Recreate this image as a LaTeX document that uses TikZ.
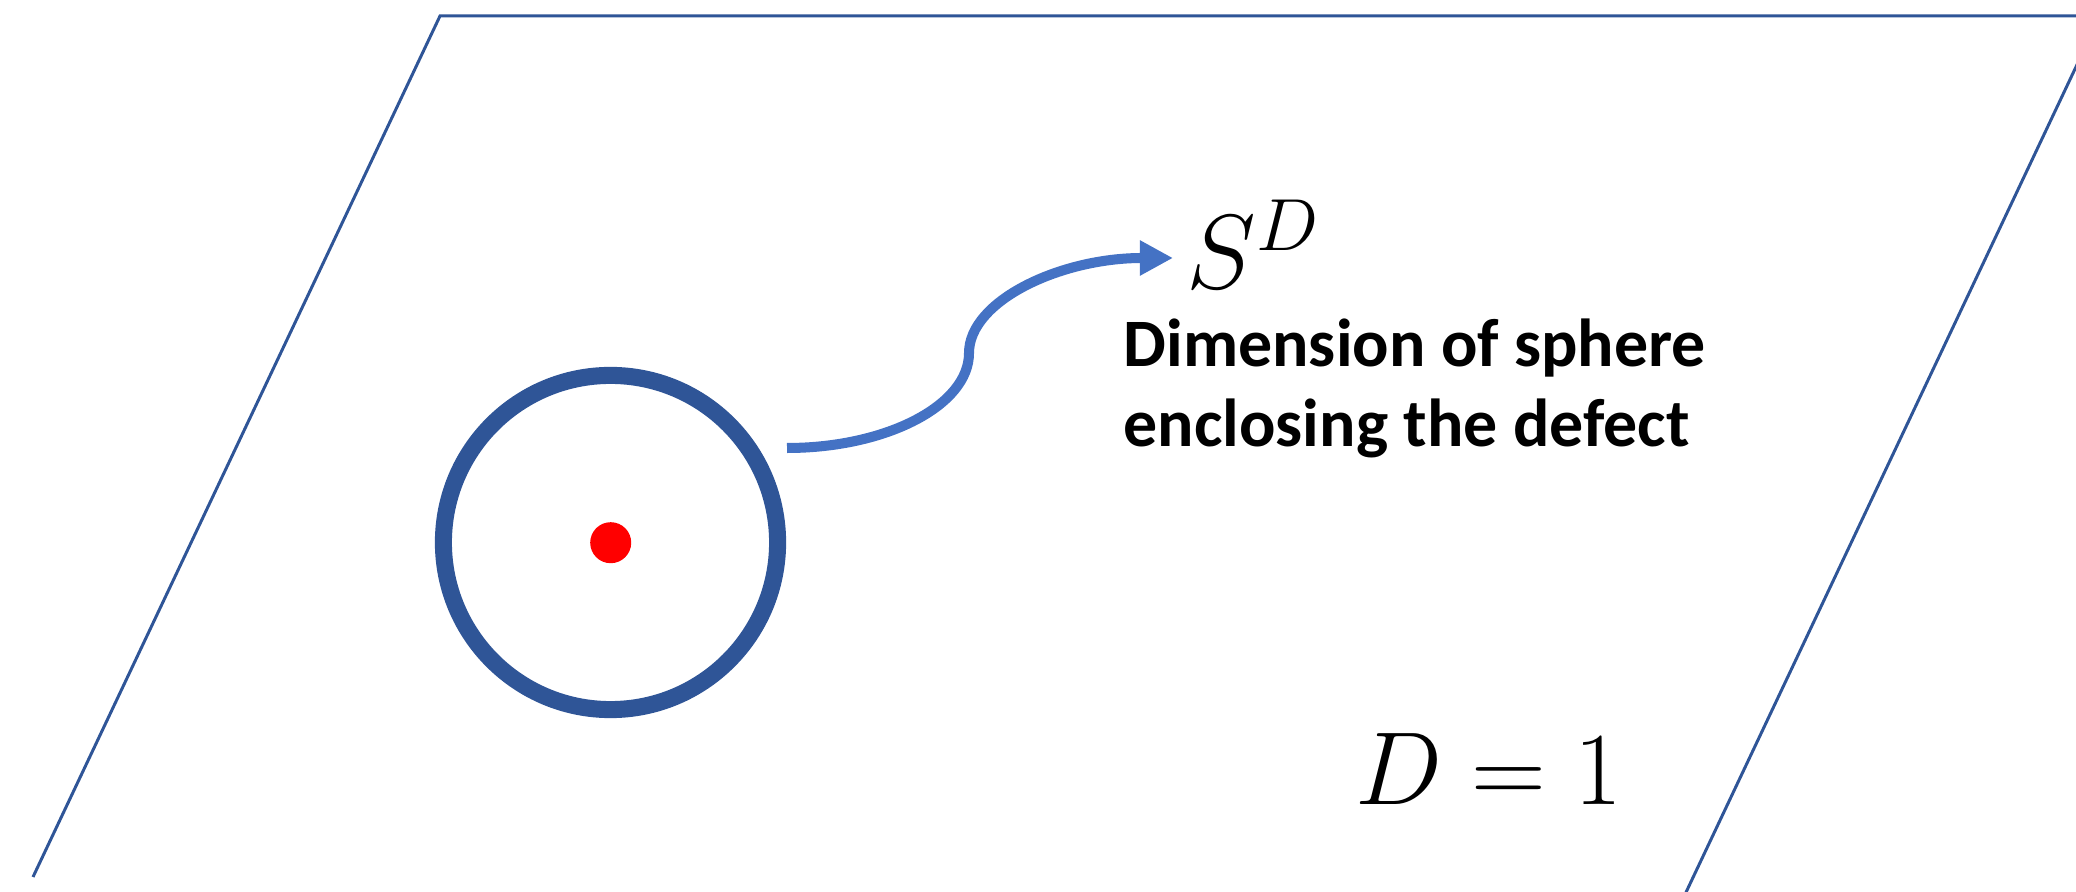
\RequirePackage{fix-cm}
\documentclass[tikz,border=0pt]{standalone}
\usepackage{fontspec}
\newfontfamily\calibri{Carlito}
\usetikzlibrary{arrows.meta}
\definecolor{dkblue}{HTML}{2F5597}
\definecolor{arrblue}{HTML}{4472C4}
\begin{document}
\begin{tikzpicture}[x=0.01cm,y=-0.01cm,
  plane/.style={draw=dkblue,line width=0.85pt,line join=miter},
  ring/.style={circle,draw=dkblue,line width=4.85pt,minimum size=3.34cm,inner sep=0pt},
  dot/.style={circle,fill=red,minimum size=0.41cm,inner sep=0pt},
  curvearrow/.style={draw=arrblue,line width=2.85pt,-{Triangle[length=9.4pt,width=9.4pt]}},
  desc/.style={font=\calibri\bfseries\fontsize{19.3}{22.8}\selectfont,align=left,inner sep=0pt,anchor=base west},
  mathlbl/.style={font=\fontsize{30}{36}\selectfont,inner sep=0pt}]
\useasboundingbox (0,0) rectangle (2076,892);
\begin{scope}
  \clip (0,0) rectangle (2076,892);
  \draw[plane] (33,877) -- (440,16) -- (2100,16) -- (1680,905);
\end{scope}
\node[ring] (sphere) at (610.5,542.5) {};
\node[dot] (defect) at (610.7,542.7) {};
\coordinate (start) at (787,448);
\coordinate (tip) at (1173,258);
\node[mathlbl,anchor=base west] (sd) at (1186,289) {$S^D$};
\node[desc] (txt) at (1123,447) {Dimension of sphere\\enclosing the defect};
\node[font=\fontsize{29.5}{36}\selectfont,inner sep=0pt,anchor=base] (eq) at (1489,805) {$D = 1$};
\draw[curvearrow] (start) .. controls (887,448) and (969,405) .. (969,353)
  .. controls (969,301) and (1060,258) .. (tip);
\end{tikzpicture}
\end{document}
